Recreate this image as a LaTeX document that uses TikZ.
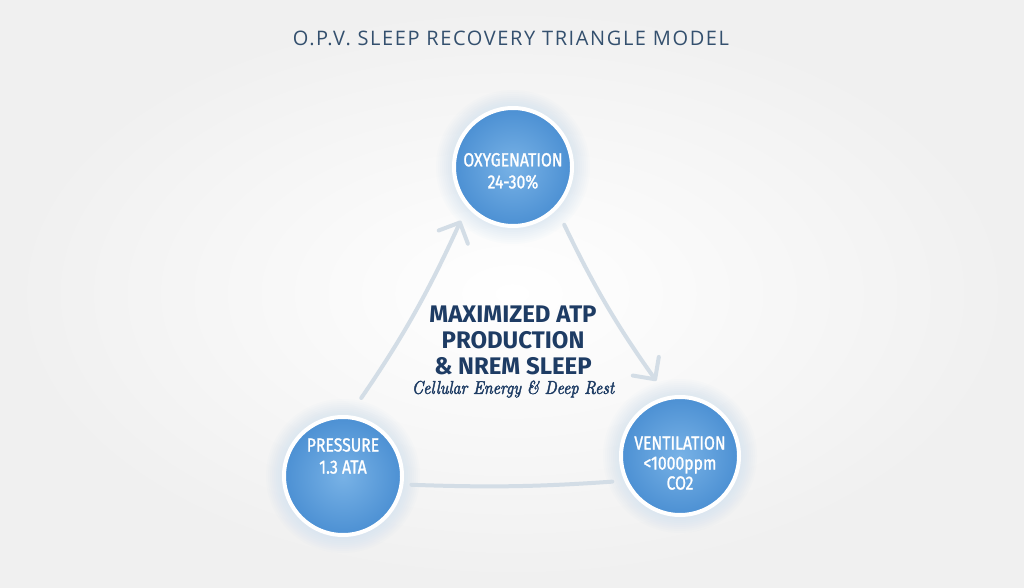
\documentclass[tikz,border=0pt]{standalone}
\usepackage{fontspec}
\setsansfont{Fira Sans}
\newfontfamily\condfont[FakeStretch=0.83,FakeBold=1.2]{Fira Sans}
\newfontfamily\titlefont[LetterSpace=8]{Open Sans}
\newfontfamily\subfont[FakeStretch=0.86,FakeBold=2.2]{lmroman10-italic.otf}
\usetikzlibrary{arrows.meta,positioning}

\definecolor{titleblue}{HTML}{34506E}
\definecolor{navy}{HTML}{1E3C64}
\definecolor{ballin}{HTML}{78B2E6}
\definecolor{ballout}{HTML}{4C90D3}
\definecolor{glowblue}{HTML}{B4D4F0}
\definecolor{linkgray}{HTML}{D3DDE6}

\tikzset{
  ball/.style={circle, minimum size=118pt, inner sep=0pt, draw=white, line width=4pt,
    inner color=ballin, outer color=ballout},
  balltext/.style={text=white, align=center, font=\condfont\fontsize{19}{22}\selectfont},
  link/.style={draw=linkgray, line width=4pt, line cap=round},
  tip/.style={-{Straight Barb[length=16pt,width=32pt,round]}},
}

\begin{document}
\begin{tikzpicture}[x=1pt,y=1pt]
  \useasboundingbox (0,0) rectangle (1024,587);
  \shade[inner color=white, outer color=gray!12] (0,0) rectangle (1024,587);

  \node[text=titleblue, font=\titlefont\fontsize{20}{24}\selectfont] (title) at (511,549)
    {O.P.V. SLEEP RECOVERY TRIANGLE MODEL};

  \coordinate (oxyc) at (513,420);
  \coordinate (presc) at (343,111);
  \coordinate (ventc) at (680,131);

  % soft glow round the circles
  \foreach \c in {oxyc,presc,ventc} {
    \foreach \i in {1,...,8}
      \fill[glowblue, opacity=0.045] (\c) circle ({61+2*\i});
  }

  \node[ball] (oxy) at (oxyc) {};
  \node[ball] (pres) at (presc) {};
  \node[ball] (vent) at (ventc) {};

  \node[balltext] (oxytxt) at ([yshift=-4pt]oxy.center) {OXYGENATION\\24-30\%};
  \node[balltext] (prestxt) at ([yshift=20pt]pres.center) {PRESSURE\\1.3 ATA};
  \node[balltext, font=\condfont\fontsize{19}{20}\selectfont] (venttxt)
    at ([yshift=-7pt]vent.center) {VENTILATION\\<1000ppm\\CO2};

  \draw[link, tip, shorten <=21pt, shorten >=15pt] (pres.84) to[bend right=5] (oxy.221);
  \draw[link, tip, shorten <=17pt, shorten >=19pt] (oxy.316) to[bend right=5] (vent.102);
  \draw[link, shorten <=12pt, shorten >=8pt] (vent.204) to[bend left=3] (pres.352);

  \node[text=navy, align=center, font=\sffamily\bfseries\fontsize{24}{26}\selectfont] (core)
    at (513,247) {MAXIMIZED ATP\\PRODUCTION\\\& NREM SLEEP};
  \node[text=navy, font=\subfont\fontsize{18.5}{22}\selectfont, below=-1pt of core]
    (coresub) {Cellular Energy \& Deep Rest};
\end{tikzpicture}
\end{document}
